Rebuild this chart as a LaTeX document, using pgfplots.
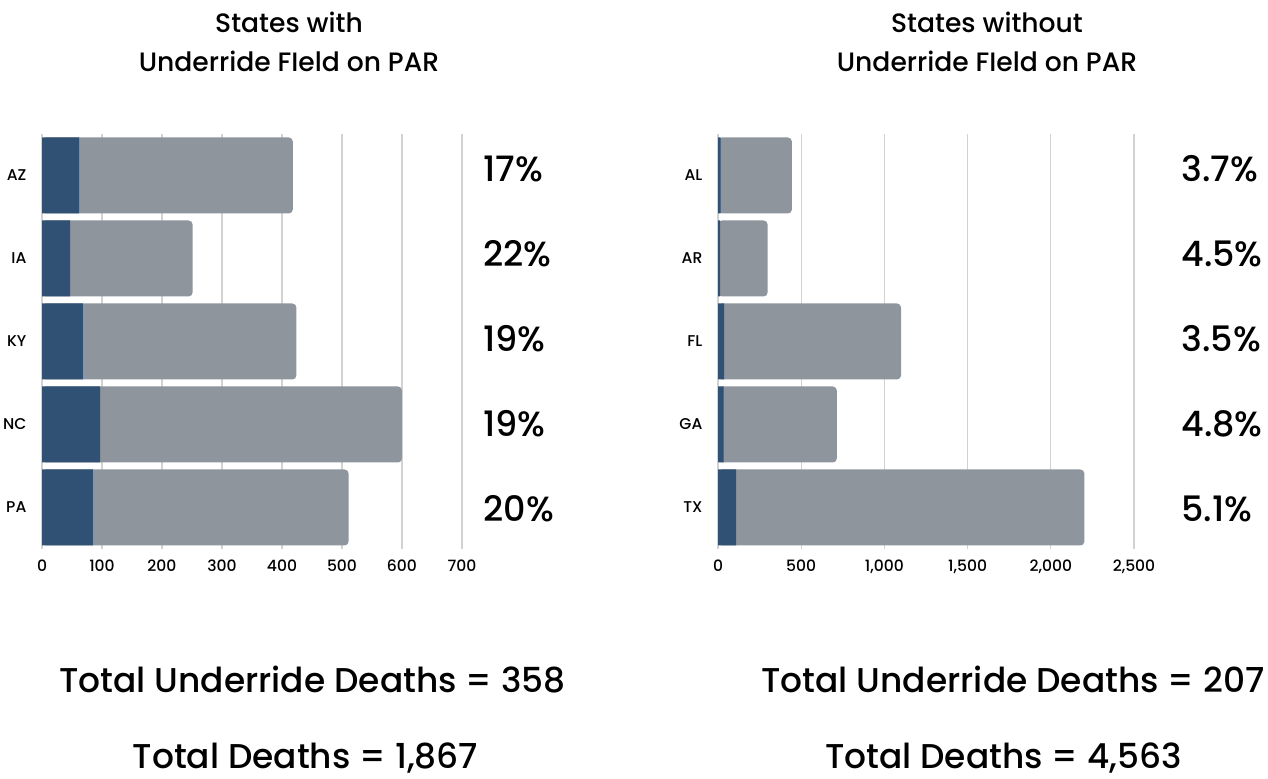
\documentclass[border=0pt]{standalone}
\usepackage{fontspec}
\setmainfont{Poppins}[UprightFont=* Medium]
\usepackage{pgfplots}
\pgfplotsset{compat=1.18}
\definecolor{darkbar}{HTML}{305174}
\definecolor{graybar}{HTML}{8E959C}
\definecolor{gridc}{HTML}{D2D2D2}
\pgfplotsset{
  mybars/.style={
    xbar, bar shift=0pt, bar width=38pt,
    scale only axis, height=207.5pt,
    y dir=reverse, ymin=-0.5, ymax=4.5, ytick={0,1,2,3,4},
    xmin=0, xmajorgrids, grid style={gridc, line width=0.6pt},
    axis line style={draw=none}, major tick style={draw=none},
    tick label style={font=\fontsize{7.8}{9}\selectfont},
    xticklabel style={yshift=-2pt},
    /pgf/number format/assume math mode=true,
    /pgf/number format/1000 sep={,},
    scaled x ticks=false,
    clip=false,
  },
  graystyle/.style={fill=graybar, draw=none, rounded corners=2pt},
  darkstyle/.style={fill=darkbar, draw=none},
}
\begin{document}
\begin{tikzpicture}
\path[use as bounding box] (0,0) rectangle (634pt,389.5pt);
% Left chart
\begin{axis}[mybars, at={(21pt,115pt)}, anchor=south west, width=210pt,
  xmax=700, xtick={0,100,...,700}, yticklabels={AZ,IA,KY,NC,PA}]
\addplot[graystyle] coordinates {(418,0) (251,1) (424,2) (600,3) (511,4)};
\addplot[darkstyle] coordinates {(62,0) (47,1) (68,2) (97,3) (85,4)};
\end{axis}
% Right chart
\begin{axis}[mybars, at={(359pt,115pt)}, anchor=south west, width=208pt,
  xmax=2500, xtick={0,500,...,2500}, yticklabels={AL,AR,FL,GA,TX}]
\addplot[graystyle] coordinates {(444,0) (298,1) (1100,2) (714,3) (2202,4)};
\addplot[darkstyle] coordinates {(16,0) (13,1) (36,2) (33,3) (109,4)};
\end{axis}
% Titles
\begin{scope}[every node/.style={font=\fontsize{13.3}{15}\selectfont, inner sep=0pt}]
\node[anchor=base] at (144.5pt,373pt) {States with};
\node[anchor=base] at (144.5pt,353.5pt) {Underride FIeld on PAR};
\node[anchor=base] at (493.5pt,373pt) {States without};
\node[anchor=base] at (493.5pt,353.5pt) {Underride FIeld on PAR};
\end{scope}
% Percent labels
\begin{scope}[every node/.style={font=\fontsize{17.5}{20}\selectfont, inner sep=0pt, anchor=base west}]
\node at (241.5pt,298.5pt) {17\%};
\node at (241.5pt,256pt) {22\%};
\node at (241.5pt,213.5pt) {19\%};
\node at (241.5pt,171pt) {19\%};
\node at (241.5pt,128.5pt) {20\%};
\node at (590.5pt,298.5pt) {3.7\%};
\node at (590.5pt,256pt) {4.5\%};
\node at (590.5pt,213.5pt) {3.5\%};
\node at (590.5pt,171pt) {4.8\%};
\node at (590.5pt,128.5pt) {5.1\%};
\end{scope}
% Totals
\begin{scope}[every node/.style={font=\fontsize{17.2}{20}\selectfont, inner sep=0pt, anchor=base}]
\node at (156.25pt,43pt) {Total Underride Deaths = 358};
\node at (152.75pt,5pt) {Total Deaths = 1,867};
\node at (506.5pt,43pt) {Total Underride Deaths = 207};
\node at (501.75pt,5pt) {Total Deaths = 4,563};
\end{scope}
\end{tikzpicture}
\end{document}
